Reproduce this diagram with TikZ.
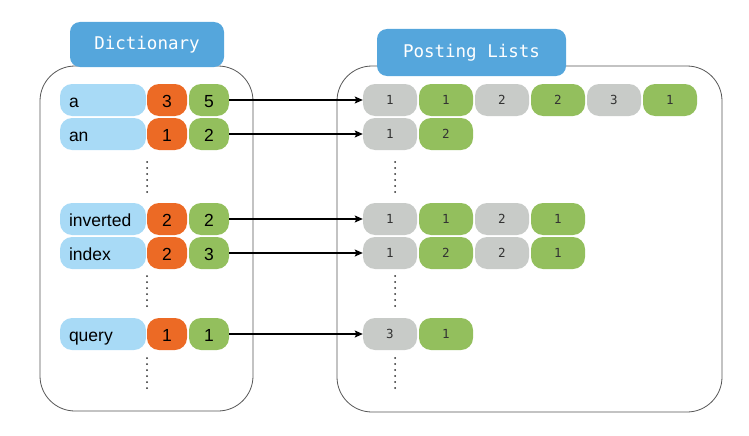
\documentclass[tikz,border=0pt]{standalone}
\usepackage{fontspec}
\setmainfont{Liberation Sans}
\setmonofont{DejaVu Sans Mono}
\usetikzlibrary{arrows.meta}

\definecolor{hdrblue}{HTML}{55A6DC}
\definecolor{termblue}{HTML}{A8DAF6}
\definecolor{freqorange}{HTML}{EC6A25}
\definecolor{postgreen}{HTML}{93BF5D}
\definecolor{docgray}{HTML}{C8CBC8}
\definecolor{framegray}{HTML}{555555}

\begin{document}
\begin{tikzpicture}[x=1pt,y=-1pt,
	hdr/.style={fill=hdrblue, rounded corners=10pt, text=white, inner sep=0pt, font=\ttfamily\fontsize{17.5}{20}\selectfont},
	term/.style={fill=termblue, rounded corners=12pt, minimum height=32pt, text width=68pt, inner xsep=9pt, inner ysep=0pt, align=left, text height=15pt, text depth=0pt, font=\fontsize{17.5}{20}\selectfont},
	cnt/.style={rounded corners=12pt, minimum height=32pt, minimum width=40pt, inner sep=0pt, text height=15pt, text depth=0pt, font=\fontsize{17.5}{20}\selectfont},
	doc/.style={fill=docgray, rounded corners=12pt, minimum height=32pt, minimum width=54pt, inner sep=0pt, text=black!80, font=\ttfamily\fontsize{12.5}{14}\selectfont},
	tf/.style={doc, fill=postgreen},
	ptr/.style={-{Stealth[length=8pt,width=7pt,inset=1.5pt]}, line width=1.2pt},
	vdots/.style={line width=2pt, line cap=round, dash pattern=on 0pt off 6pt, black!85}
	]
	\useasboundingbox (0,0) rectangle (749,436);
	
	\def\xT{103}
	\def\xO{167}
	\def\xG{209}
	\def\xP{390}
	\def\dP{56}
	
	\def\ya{100}
	\def\yan{134}
	\def\yinv{219}
	\def\yidx{253}
	\def\yq{334}
	
	\draw[framegray, line width=0.8pt, rounded corners=35pt] (40,66) rectangle (253,411);
	\draw[framegray, line width=0.8pt, rounded corners=35pt] (337,66) rectangle (722,412);
	
	\node[hdr, minimum width=154pt, minimum height=45pt] (D) at (147,44.5) {Dictionary};
	\node[hdr, minimum width=189pt, minimum height=47pt] (P) at (471.5,52.5) {Posting Lists};
	
	\node[term] (Ta) at (\xT,\ya) {a};
	\node[cnt, fill=freqorange] (Oa) at (\xO,\ya) {3};
	\node[cnt, fill=postgreen] (Ga) at (\xG,\ya) {5};
	
	\node[term] (Tan) at (\xT,\yan) {an};
	\node[cnt, fill=freqorange] (Oan) at (\xO,\yan) {1};
	\node[cnt, fill=postgreen] (Gan) at (\xG,\yan) {2};
	
	\node[term] (Tinv) at (\xT,\yinv) {inverted};
	\node[cnt, fill=freqorange] (Oinv) at (\xO,\yinv) {2};
	\node[cnt, fill=postgreen] (Ginv) at (\xG,\yinv) {2};
	
	\node[term] (Tidx) at (\xT,\yidx) {index};
	\node[cnt, fill=freqorange] (Oidx) at (\xO,\yidx) {2};
	\node[cnt, fill=postgreen] (Gidx) at (\xG,\yidx) {3};
	
	\node[term] (Tq) at (\xT,\yq) {query};
	\node[cnt, fill=freqorange] (Oq) at (\xO,\yq) {1};
	\node[cnt, fill=postgreen] (Gq) at (\xG,\yq) {1};
	
	\node[doc] (Pa1) at (\xP,\ya) {1};
	\node[tf] (Pa2) at (\xP+\dP,\ya) {1};
	\node[doc] (Pa3) at (\xP+2*\dP,\ya) {2};
	\node[tf] (Pa4) at (\xP+3*\dP,\ya) {2};
	\node[doc] (Pa5) at (\xP+4*\dP,\ya) {3};
	\node[tf] (Pa6) at (\xP+5*\dP,\ya) {1};
	
	\node[doc] (Pan1) at (\xP,\yan) {1};
	\node[tf] (Pan2) at (\xP+\dP,\yan) {2};
	
	\node[doc] (Pinv1) at (\xP,\yinv) {1};
	\node[tf] (Pinv2) at (\xP+\dP,\yinv) {1};
	\node[doc] (Pinv3) at (\xP+2*\dP,\yinv) {2};
	\node[tf] (Pinv4) at (\xP+3*\dP,\yinv) {1};
	
	\node[doc] (Pidx1) at (\xP,\yidx) {1};
	\node[tf] (Pidx2) at (\xP+\dP,\yidx) {2};
	\node[doc] (Pidx3) at (\xP+2*\dP,\yidx) {2};
	\node[tf] (Pidx4) at (\xP+3*\dP,\yidx) {1};
	
	\node[doc] (Pq1) at (\xP,\yq) {3};
	\node[tf] (Pq2) at (\xP+\dP,\yq) {1};
	
	\draw[ptr] (Ga) -- (Pa1);
	\draw[ptr] (Gan) -- (Pan1);
	\draw[ptr] (Ginv) -- (Pinv1);
	\draw[ptr] (Gidx) -- (Pidx1);
	\draw[ptr] (Gq) -- (Pq1);
	
	\coordinate (L1) at (147,162);
	\coordinate (L2) at (147,276);
	\coordinate (L3) at (147,358);
	\coordinate (R1) at (395,162);
	\coordinate (R2) at (395,276);
	\coordinate (R3) at (395,358);
	
	\draw[vdots] (L1) -- ++(0,30);
	\draw[vdots] (L2) -- ++(0,30);
	\draw[vdots] (L3) -- ++(0,30);
	\draw[vdots] (R1) -- ++(0,30);
	\draw[vdots] (R2) -- ++(0,30);
	\draw[vdots] (R3) -- ++(0,30);
\end{tikzpicture}
\end{document}
